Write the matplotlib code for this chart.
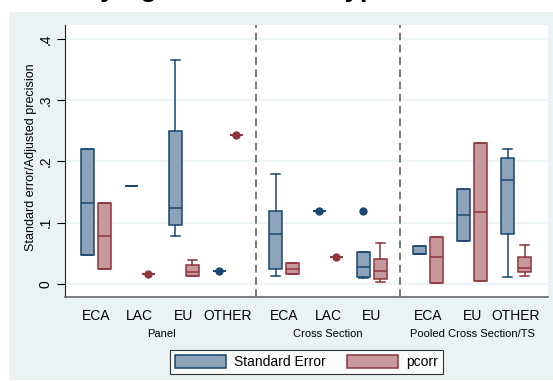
import matplotlib
matplotlib.use("Agg")
import matplotlib.pyplot as plt
import matplotlib.transforms as mtransforms
from matplotlib.patches import Patch, Rectangle

plt.rcParams['font.family'] = ['Liberation Sans', 'DejaVu Sans']

# categories inside each estimation group
groups = ["Panel", "Cross Section", "Pooled Cross Section/TS"]
group_cats = [["ECA", "LAC", "EU", "OTHER"],
              ["ECA", "LAC", "EU"],
              ["ECA", "EU", "OTHER"]]

# box stats: (whislo, q1, med, q3, whishi)
se_stats = [(0.047, 0.047, 0.133, 0.220, 0.220),
            (0.160, 0.160, 0.160, 0.160, 0.160),
            (0.079, 0.097, 0.124, 0.250, 0.365),
            (0.022, 0.022, 0.022, 0.022, 0.022),
            (0.0136, 0.024, 0.081, 0.119, 0.1795),
            (0.119, 0.119, 0.119, 0.119, 0.119),
            (0.010, 0.011, 0.028, 0.052, 0.052),
            (0.049, 0.049, 0.049, 0.062, 0.062),
            (0.070, 0.070, 0.113, 0.155, 0.155),
            (0.011, 0.081, 0.170, 0.206, 0.221)]
se_out = [[], [], [], [0.022], [], [0.119], [0.119], [], [], []]

pc_stats = [(0.024, 0.024, 0.078, 0.133, 0.133),
            (0.017, 0.017, 0.017, 0.017, 0.017),
            (0.0136, 0.0136, 0.019, 0.0305, 0.0387),
            (0.243, 0.243, 0.243, 0.243, 0.243),
            (0.016, 0.016, 0.0245, 0.034, 0.034),
            (0.044, 0.044, 0.044, 0.044, 0.044),
            (0.003, 0.009, 0.021, 0.041, 0.067),
            (0.002, 0.002, 0.0435, 0.077, 0.077),
            (0.005, 0.005, 0.118, 0.230, 0.230),
            (0.013, 0.019, 0.026, 0.045, 0.063)]
pc_out = [[], [0.017], [], [0.243], [], [0.044], [], [], [], []]

se_fill, se_edge = "#8ca3ba", "#1a476f"
pc_fill, pc_edge = "#c8999c", "#90353b"

# x positions: one unit per category, wider gap between groups
gap = 1.284
centers = []
group_mid = []
seps = []
x = 0.0
for gi, cats in enumerate(group_cats):
    start = x
    for c in cats:
        centers.append(x)
        x += 1
    group_mid.append((start + x - 1) / 2)
    x += gap - 1
    if gi < len(group_cats) - 1:
        seps.append(x - gap / 2)
labels = [c for cats in group_cats for c in cats]


def to_dicts(stats, outs):
    res = []
    for s, o in zip(stats, outs):
        res.append(dict(whislo=s[0], q1=s[1], med=s[2], q3=s[3],
                        whishi=s[4], fliers=o))
    return res


fig = plt.figure(figsize=(5.53, 3.81), dpi=100, facecolor="white")
W, H = 553, 381
fig.patches.append(Rectangle((9 / W, 1 / H), 544 / W, 368 / H,
                             transform=fig.transFigure, facecolor="#eaf2f3",
                             edgecolor="none", zorder=-10))
ax = fig.add_axes([65 / W, 84 / H, 483 / W, 272 / H])
ax.set_zorder(1)
ax.set_facecolor("white")

off, bw, cw = 0.193, 0.30, 0.215
for stats, outs, sign, fc, ec in [(se_stats, se_out, -1, se_fill, se_edge),
                                  (pc_stats, pc_out, 1, pc_fill, pc_edge)]:
    pos = [c + sign * off for c in centers]
    ax.bxp(to_dicts(stats, outs), positions=pos, widths=bw, capwidths=cw,
           patch_artist=True, manage_ticks=False,
           boxprops=dict(facecolor=fc, edgecolor=ec, linewidth=1.1),
           medianprops=dict(color=ec, linewidth=1.1),
           whiskerprops=dict(color=ec, linewidth=1.1),
           capprops=dict(color=ec, linewidth=1.1),
           flierprops=dict(marker="o", markersize=5, markerfacecolor=ec,
                           markeredgecolor=ec))

for s in seps:
    ax.axvline(s, color="#555555", linestyle=(0, (5, 3)), linewidth=1.1)

ax.set_xlim(centers[0] - 0.705, centers[-1] + 0.727)
ax.set_ylim(-0.021, 0.4225)
yt = [0, 0.1, 0.2, 0.3, 0.4]
ax.set_yticks(yt)
ax.set_yticklabels(["0", ".1", ".2", ".3", ".4"], rotation=90, va="center",
                   fontsize=10)
ax.yaxis.grid(True, color="#eaf2f3", linewidth=1.2)
ax.set_axisbelow(True)
ax.tick_params(axis="y", length=6, width=0.8, pad=3)
ax.set_xticks(centers)
ax.set_xticklabels(labels, fontsize=10)
ax.tick_params(axis="x", length=0, pad=9)
for side in ["top", "right"]:
    ax.spines[side].set_visible(False)
ax.spines["left"].set_color("#222222")
ax.spines["bottom"].set_color("#666666")
ax.spines["bottom"].set_linewidth(1.2)

tr = mtransforms.blended_transform_factory(ax.transData, fig.transFigure)
for g, m in zip(groups, group_mid):
    ax.text(m, 1 - 334 / H, g, transform=tr, ha="center", va="center",
            fontsize=8)

fig.text(31 / W, 1 - 157 / H, "Standard error/Adjusted precision",
         rotation=90, ha="center", va="center", fontsize=9)

fig.text(0.42, 1 + 4 / H, "Varying across Data Types",
         ha="center", va="baseline", fontsize=20, fontweight="bold")

handles = [Patch(facecolor=se_fill, edgecolor=se_edge, linewidth=1.1),
           Patch(facecolor=pc_fill, edgecolor=pc_edge, linewidth=1.1)]
leg = fig.legend(handles, ["Standard Error", "pcorr"], ncol=2,
                 loc="center", bbox_to_anchor=(306.5 / W, 1 - 362 / H),
                 fontsize=10, frameon=True, fancybox=False,
                 handlelength=3.7, handleheight=1.1, handletextpad=0.57,
                 columnspacing=1.5, borderpad=0.35, borderaxespad=0)
leg.get_frame().set_edgecolor("black")
leg.get_frame().set_linewidth(0.8)

fig.savefig("out.png", dpi=100, facecolor="white")
